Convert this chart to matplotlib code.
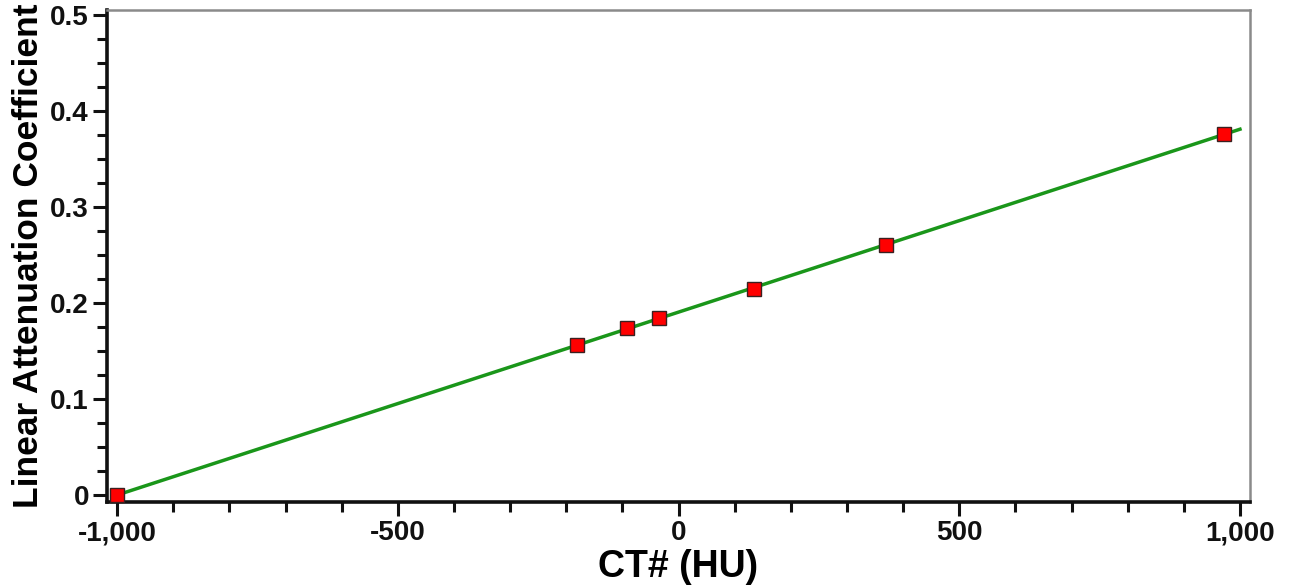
import matplotlib
matplotlib.use("Agg")
from matplotlib import pyplot as plt
from matplotlib.ticker import MultipleLocator, FuncFormatter

# measured points
ct_hu = [-1000, -181, -91, -34, 135, 370, 971]
mu = [0.0, 0.156, 0.174, 0.184, 0.215, 0.260, 0.376]

# fitted line end points
fit_x = [-1000, 1000]
fit_y = [0.0, 0.381]

x_label = "CT# (HU)"
y_label = "Linear Attenuation Coefficient"

plt.rcParams['font.family'] = ['Liberation Sans', 'DejaVu Sans']
plt.rcParams['font.weight'] = 'bold'

fig = plt.figure(figsize=(12.91, 5.86), dpi=100)
ax = fig.add_axes([0.0829, 0.1433, 0.8854, 0.8397])

ax.plot(fit_x, fit_y, color='#1a961a', lw=2.5, zorder=2)
ax.plot(ct_hu, mu, ls='none', marker='s', ms=10, mfc='#ff0000',
	mec='#3a2020', mew=1.0, zorder=3, clip_on=False)

ax.set_xlim(-1018, 1018)
ax.set_ylim(-0.0073, 0.5052)

ax.xaxis.set_major_locator(MultipleLocator(500))
ax.xaxis.set_minor_locator(MultipleLocator(100))
ax.yaxis.set_major_locator(MultipleLocator(0.1))
ax.yaxis.set_minor_locator(MultipleLocator(0.025))

def fmt_x(v, pos):
	if abs(v) < 1e-9:
		return '0'
	return '{:,.0f}'.format(v)

def fmt_y(v, pos):
	if abs(v) < 1e-9:
		return '0'
	return '{:.1f}'.format(v)

ax.xaxis.set_major_formatter(FuncFormatter(fmt_x))
ax.yaxis.set_major_formatter(FuncFormatter(fmt_y))

ax.tick_params(which='both', direction='out', width=2.2, colors='#111111',
	top=False, right=False)
ax.tick_params(which='major', length=10, labelsize=20, pad=3)
ax.tick_params(which='minor', length=7)
for lab in ax.get_xticklabels() + ax.get_yticklabels():
	lab.set_fontweight('bold')

for side in ['left', 'bottom']:
	ax.spines[side].set_color('#111111')
	ax.spines[side].set_linewidth(2.6)
for side in ['top', 'right']:
	ax.spines[side].set_color('#8a8a8a')
	ax.spines[side].set_linewidth(1.8)

ax.set_xlabel(x_label, fontsize=27, fontweight='bold', labelpad=2)
ax.set_ylabel(y_label, fontsize=25.5, fontweight='bold', labelpad=4)

fig.savefig('out.png', dpi=100)
